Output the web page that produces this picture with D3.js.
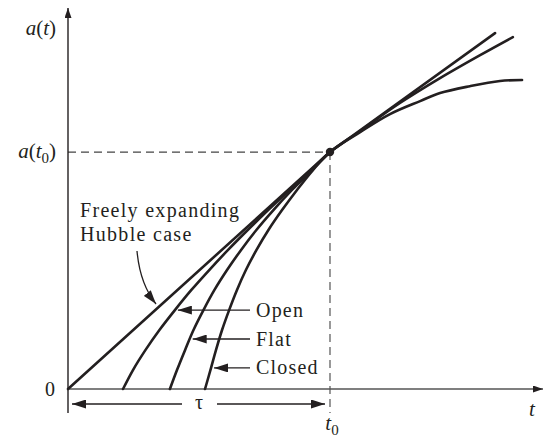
<!DOCTYPE html>
<html><head><meta charset="utf-8">
<script src="https://cdn.jsdelivr.net/npm/d3@7"></script>
<style>body{margin:0;background:#fff}svg{display:block}</style>
</head><body>
<script>
// ---- data (t in units of t0, a in units of a(t0)) ----
const curveNames = ["Hubble", "Open", "Flat", "Closed"];
const hubbleT = [0, 1, 1.630];
const hubbleA = [0, 1, 1.502];
const openT = [0.210,0.248,0.296,0.349,0.408,0.471,0.539,0.610,0.686,0.764,0.845,0.928,1,1.115,1.267,1.420,1.573,1.698];
const openA = [0,0.080,0.165,0.249,0.333,0.418,0.502,0.586,0.671,0.755,0.840,0.924,1,1.089,1.207,1.312,1.409,1.485];
const flatT = [0.389,0.416,0.447,0.479,0.517,0.559,0.607,0.660,0.719,0.784,0.855,0.931,1];
const flatA = [0,0.080,0.165,0.249,0.333,0.418,0.502,0.586,0.671,0.755,0.840,0.924,1];
const closedT = [0.523,0.546,0.565,0.588,0.615,0.645,0.679,0.719,0.765,0.817,0.874,0.935,1,1.115,1.229,1.344,1.420,1.534,1.649,1.733];
const closedA = [0,0.089,0.165,0.249,0.333,0.418,0.502,0.586,0.671,0.755,0.840,0.924,1,1.084,1.160,1.215,1.249,1.278,1.300,1.304];
const labelNames = ["Open", "Flat", "Closed"];
const labelA = [0.333, 0.211, 0.089];
const t0 = 1, a0 = 1;
const tMax = 1.813, aMax = 1.608, aMin = -0.101;

// ---- drawing ----
const W = 545, H = 438;
const ink = "#231f20";
const font = "Liberation Serif";
const svg = d3.select("body").append("svg").attr("width", W).attr("height", H)
  .style("font-family", font);
const x = d3.scaleLinear().domain([0, tMax]).range([68, 543]);
const y = d3.scaleLinear().domain([0, aMax]).range([389, 8]);

const defs = svg.append("defs");
function marker(id, len, wid) {
  defs.append("marker").attr("id", id).attr("markerUnits", "userSpaceOnUse")
    .attr("markerWidth", len).attr("markerHeight", wid)
    .attr("refX", len).attr("refY", wid / 2).attr("orient", "auto")
    .append("path").attr("d", `M0,0L${len},${wid/2}L0,${wid}Z`).attr("fill", ink);
}
marker("axisHead", 10, 7);
marker("head", 14, 9);

svg.append("line").attr("x1", x(0)).attr("x2", x(t0)).attr("y1", y(a0)).attr("y2", y(a0))
  .attr("stroke", "#444").attr("stroke-width", 1.2).attr("stroke-dasharray", "8,5");
svg.append("line").attr("x1", x(t0)).attr("x2", x(t0)).attr("y1", y(a0)).attr("y2", y(aMin))
  .attr("stroke", "#555").attr("stroke-width", 1.2).attr("stroke-dasharray", "8,5");

svg.append("line").attr("x1", x(0)).attr("x2", x(0)).attr("y1", y(aMin)).attr("y2", y(aMax))
  .attr("stroke", ink).attr("stroke-width", 1.4).attr("marker-end", "url(#axisHead)");
svg.append("line").attr("x1", x(0)).attr("x2", x(tMax)).attr("y1", y(0)).attr("y2", y(0))
  .attr("stroke", "#555").attr("stroke-width", 1.4).attr("marker-end", "url(#axisHead)");

const series = [
  {name: curveNames[0], pts: hubbleT.map((t, i) => [t, hubbleA[i]]), curve: d3.curveLinear},
  {name: curveNames[1], pts: openT.map((t, i) => [t, openA[i]]), curve: d3.curveCatmullRom.alpha(0.5)},
  {name: curveNames[2], pts: flatT.map((t, i) => [t, flatA[i]]), curve: d3.curveCatmullRom.alpha(0.5)},
  {name: curveNames[3], pts: closedT.map((t, i) => [t, closedA[i]]), curve: d3.curveCatmullRom.alpha(0.5)}
];
series.forEach(s => {
  svg.append("path").attr("d", d3.line().x(d => x(d[0])).y(d => y(d[1])).curve(s.curve)(s.pts))
    .attr("fill", "none").attr("stroke", ink).attr("stroke-width", 2.6)
    .attr("stroke-linecap", "round").attr("stroke-linejoin", "round");
});
svg.append("circle").attr("cx", x(t0)).attr("cy", y(a0)).attr("r", 4.2).attr("fill", ink);

function tAt(pts, a) {
  for (let i = 1; i < pts.length; i++) {
    if (pts[i][1] >= a) {
      const [t1, a1] = pts[i-1], [t2, a2] = pts[i];
      return t1 + (t2 - t1) * (a - a1) / (a2 - a1);
    }
  }
  return pts[pts.length-1][0];
}

const textStyle = s => s.style("font-family", font).attr("font-size", 20).attr("fill", ink);
labelNames.forEach((n, i) => {
  const s = series[i + 1];
  const yy = y(labelA[i]);
  const tip = x(tAt(s.pts, labelA[i])) + 3;
  svg.append("line").attr("x1", 250).attr("x2", tip).attr("y1", yy).attr("y2", yy)
    .attr("stroke", ink).attr("stroke-width", 1.3).attr("marker-end", "url(#head)");
  svg.append("text").attr("x", 256).attr("y", yy + 6.5).text(n).call(textStyle)
    .attr("letter-spacing", 1.2);
});

svg.append("text").attr("x", 80).attr("y", 217).text("Freely expanding").call(textStyle)
  .attr("letter-spacing", 1.3);
svg.append("text").attr("x", 80).attr("y", 241).text("Hubble case").call(textStyle)
  .attr("letter-spacing", 1.3);
svg.append("path").attr("d", "M137,251 Q140,284 156,304").attr("fill", "none")
  .attr("stroke", ink).attr("stroke-width", 1.3).attr("marker-end", "url(#head)");

const tauY = 404;
svg.append("line").attr("x1", 182).attr("x2", x(0) + 4).attr("y1", tauY).attr("y2", tauY)
  .attr("stroke", ink).attr("stroke-width", 1.3).attr("marker-end", "url(#head)");
svg.append("line").attr("x1", 217).attr("x2", x(t0) - 5).attr("y1", tauY).attr("y2", tauY)
  .attr("stroke", ink).attr("stroke-width", 1.3).attr("marker-end", "url(#head)");
svg.append("text").attr("x", 199).attr("y", 409).attr("text-anchor", "middle").text("τ").call(textStyle);

function mathLabel(xp, yp, anchor, sub, inner) {
  const t = svg.append("text").attr("x", xp).attr("y", yp).attr("text-anchor", anchor).call(textStyle)
    .attr("font-size", 21);
  if (inner) {
    t.append("tspan").style("font-style", "italic").text("a");
    t.append("tspan").text("(");
    t.append("tspan").style("font-style", "italic").text("t");
    if (sub) t.append("tspan").attr("font-size", 15).attr("dy", 5).text("0");
    t.append("tspan").attr("dy", sub ? -5 : 0).text(")");
  } else {
    t.append("tspan").style("font-style", "italic").text("t");
    if (sub) t.append("tspan").attr("font-size", 15).attr("dy", 5).text("0");
  }
}
mathLabel(56, 35, "end", false, true);
mathLabel(56, 158, "end", true, true);
mathLabel(x(t0) + 2, 430, "middle", true, false);
mathLabel(532, 416, "middle", false, false);
svg.append("text").attr("x", 55).attr("y", 396).attr("text-anchor", "end").text("0").call(textStyle);
</script>
</body></html>
